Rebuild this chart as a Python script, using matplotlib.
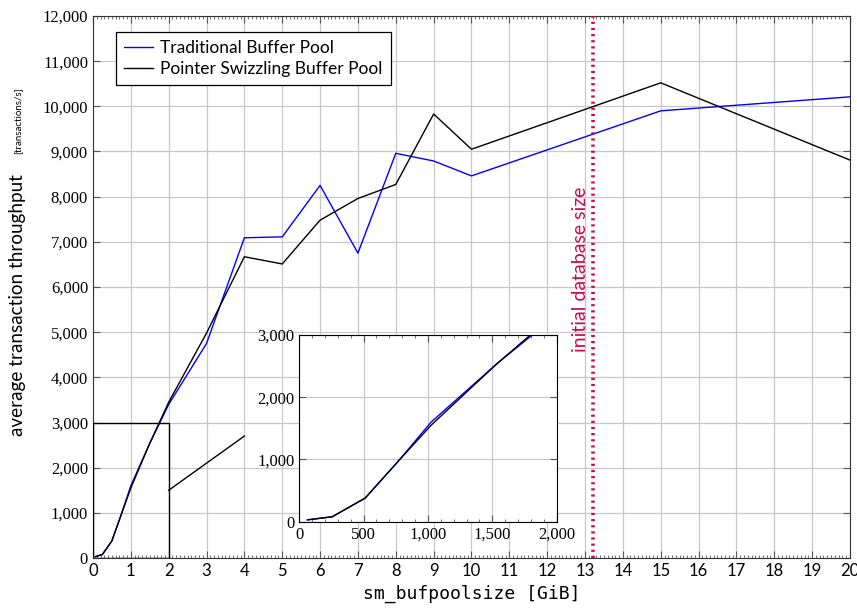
import numpy as np
import matplotlib.pyplot as plt
from matplotlib.ticker import MultipleLocator, FuncFormatter
from matplotlib.patches import Rectangle

# buffer pool size in GiB
sizes_gib = [0.0625, 0.25, 0.5, 0.75, 1, 1.5, 2, 3, 4, 5, 6, 7, 8, 9, 10, 15, 20]
traditional = [30, 80, 380, 970, 1600, 2540, 3400, 4750, 7090, 7110, 8250, 6750, 8960, 8790, 8460, 9900, 10210]
swizzling = [30, 80, 380, 970, 1550, 2540, 3450, 4980, 6670, 6510, 7480, 7960, 8270, 9830, 9050, 10520, 8810]

# inset: same data in MiB (small sizes only)
sizes_mib = [64, 256, 512, 768, 1024, 1536, 2048]
n_inset = len(sizes_mib)

db_size_gib = 13.2

SANS = ['Lato', 'DejaVu Sans']
SERIF = ['Liberation Serif', 'DejaVu Serif']
plt.rcParams['font.family'] = SANS

thousands = FuncFormatter(lambda v, p: f"{int(v):,}")

fig = plt.figure(figsize=(8.57, 6.08), dpi=100)
ax = fig.add_axes([0.1085, 0.0822, 0.8833, 0.8915])

ax.plot(sizes_gib, traditional, color='#0000ff', lw=1.0, label='Traditional Buffer Pool')
ax.plot(sizes_gib, swizzling, color='black', lw=1.0, label='Pointer Swizzling Buffer Pool')

ax.axvline(db_size_gib, color='#cc0a4a', lw=2.6, linestyle=(0, (0.6, 1.1)), zorder=4)
ax.text(db_size_gib - 0.32, 6400, 'initial database size', rotation=90, color='#cc0a4a',
        fontsize=14, ha='center', va='center')

# zoom marker
ax.add_patch(Rectangle((0, 0), 2, 3000, fill=False, edgecolor='black', lw=1.0, zorder=3))
ax.plot([2, 4], [1500, 2700], color='black', lw=1.0)

ax.set_xlim(0, 20)
ax.set_ylim(0, 12000)
ax.xaxis.set_major_locator(MultipleLocator(1))
ax.xaxis.set_minor_locator(MultipleLocator(0.1))
ax.yaxis.set_major_locator(MultipleLocator(1000))
ax.yaxis.set_major_formatter(thousands)
ax.tick_params(which='both', direction='in', top=True, right=True)
ax.tick_params(which='major', length=5, color='#555555')
ax.tick_params(which='minor', length=2.5, color='#555555')
ax.tick_params(axis='x', which='minor', top=True)
ax.tick_params(axis='y', which='minor', left=False, right=False)
ax.tick_params(labelsize=12)
for t in ax.get_xticklabels():
    t.set_family(SANS)
for t in ax.get_yticklabels():
    t.set_family(SERIF)
ax.grid(True, which='major', color='#c8c8c8', lw=0.9)
ax.set_axisbelow(True)
for s in ax.spines.values():
    s.set_color('#333333')

ax.set_xlabel('sm_bufpoolsize [GiB]', family=['DejaVu Sans Mono'], fontsize=13)
ax.text(-0.1, 0.467, 'average transaction throughput', rotation=90, transform=ax.transAxes,
        fontsize=13.6, ha='center', va='center')
ax.text(-0.1, 0.806, '[transactions/s]', rotation=90, transform=ax.transAxes,
        fontsize=7, ha='center', va='center')

leg = ax.legend(loc='upper left', bbox_to_anchor=(0.019, 0.986), fontsize=12.5,
                handlelength=1.7, handletextpad=0.4, borderpad=0.45, labelspacing=0.3,
                fancybox=False, framealpha=1, edgecolor='black')
leg.get_frame().set_linewidth(0.9)

# inset
axi = fig.add_axes([0.3492, 0.1419, 0.3004, 0.3071])
axi.plot(sizes_mib, traditional[:n_inset], color='#0000ff', lw=1.0)
axi.plot(sizes_mib, swizzling[:n_inset], color='black', lw=1.0)
axi.set_xlim(0, 2000)
axi.set_ylim(0, 3000)
axi.xaxis.set_major_locator(MultipleLocator(500))
axi.xaxis.set_minor_locator(MultipleLocator(100))
axi.yaxis.set_major_locator(MultipleLocator(1000))
axi.xaxis.set_major_formatter(thousands)
axi.yaxis.set_major_formatter(thousands)
axi.tick_params(which='both', direction='in', top=True, right=True, labelsize=12)
axi.tick_params(which='major', length=5, color='#555555')
axi.tick_params(which='minor', length=2.5, color='#555555')
for t in axi.get_xticklabels() + axi.get_yticklabels():
    t.set_family(SERIF)
axi.grid(True, which='major', color='#c8c8c8', lw=0.9)
axi.set_axisbelow(True)

fig.savefig('out.png', dpi=100)
